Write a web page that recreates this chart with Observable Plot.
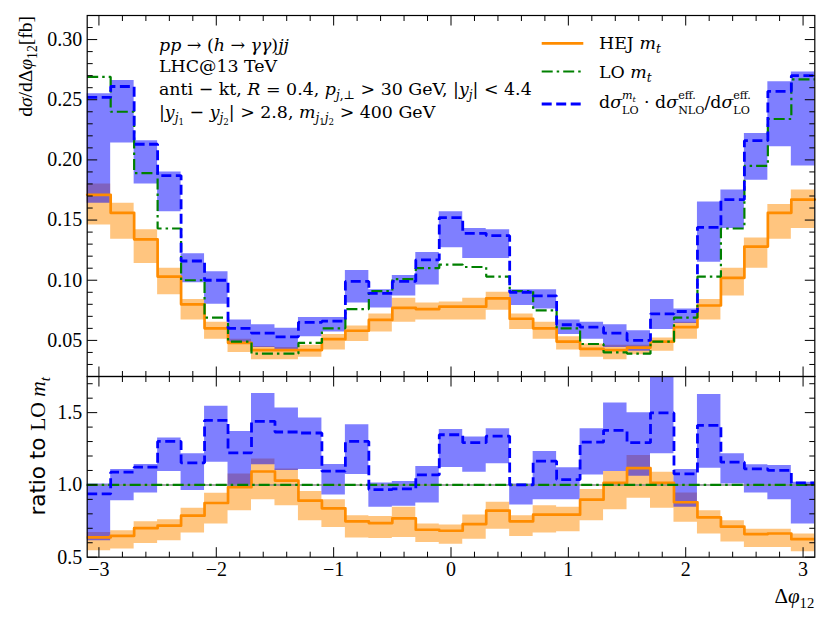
<!DOCTYPE html>
<html><head><meta charset="utf-8">
<script src="https://cdn.jsdelivr.net/npm/d3@7"></script>
<script src="https://cdn.jsdelivr.net/npm/@observablehq/plot@0.6"></script>
<style>
body{margin:0;background:#fff}
#wrap{position:relative;width:830px;height:623px;overflow:hidden}
#wrap svg{position:absolute;left:0}
</style></head>
<body><div id="wrap"></div>
<script>
// ---- data (31 bins of width 0.2 in Δφ12) ----
const binEdges = [-3.1,-2.9,-2.7,-2.5,-2.3,-2.1,-1.9,-1.7,-1.5,-1.3,-1.1,-0.9,-0.7,-0.5,-0.3,-0.1,0.1,0.3,0.5,0.7,0.9,1.1,1.3,1.5,1.7,1.9,2.1,2.3,2.5,2.7,2.9,3.1];
const hej   = [0.171,0.156,0.134,0.103,0.080,0.060,0.048,0.042,0.042,0.042,0.051,0.058,0.067,0.077,0.076,0.078,0.078,0.085,0.068,0.060,0.049,0.043,0.042,0.044,0.049,0.061,0.079,0.102,0.128,0.156,0.167];
const hejLo = [0.146,0.134,0.114,0.088,0.067,0.051,0.040,0.034,0.034,0.036,0.042,0.049,0.057,0.065,0.067,0.067,0.067,0.075,0.059,0.051,0.042,0.036,0.034,0.038,0.041,0.051,0.067,0.087,0.110,0.134,0.143];
const hejHi = [0.180,0.164,0.142,0.110,0.084,0.065,0.051,0.045,0.044,0.046,0.055,0.062,0.072,0.085,0.081,0.082,0.085,0.090,0.072,0.065,0.053,0.047,0.046,0.046,0.052,0.065,0.084,0.110,0.135,0.163,0.175];
const loMt  = [0.269,0.240,0.189,0.143,0.100,0.069,0.049,0.039,0.039,0.048,0.060,0.076,0.091,0.101,0.110,0.113,0.111,0.103,0.091,0.075,0.060,0.047,0.040,0.039,0.049,0.069,0.103,0.143,0.195,0.234,0.267];
const nlo   = [0.252,0.261,0.213,0.187,0.116,0.100,0.060,0.056,0.053,0.065,0.066,0.099,0.089,0.099,0.117,0.152,0.139,0.137,0.090,0.087,0.063,0.061,0.056,0.050,0.072,0.074,0.144,0.167,0.216,0.257,0.270];
const nloLo = [0.164,0.214,0.180,0.157,0.098,0.080,0.047,0.044,0.042,0.053,0.057,0.081,0.077,0.087,0.096,0.127,0.118,0.118,0.079,0.076,0.055,0.051,0.044,0.041,0.059,0.064,0.115,0.143,0.183,0.211,0.195];
const nloHi = [0.255,0.266,0.216,0.190,0.122,0.107,0.067,0.063,0.060,0.069,0.069,0.108,0.092,0.104,0.123,0.157,0.143,0.142,0.092,0.092,0.067,0.065,0.063,0.058,0.084,0.076,0.165,0.175,0.222,0.265,0.273];
// ratio to LO m_t
const rHej   = [0.637,0.648,0.701,0.718,0.787,0.875,0.984,1.093,1.030,0.891,0.838,0.748,0.736,0.769,0.690,0.683,0.729,0.822,0.748,0.794,0.794,0.898,1.014,1.116,1.014,0.880,0.775,0.711,0.660,0.664,0.625];
const rHejLo = [0.544,0.556,0.595,0.613,0.667,0.729,0.822,0.898,0.856,0.752,0.706,0.632,0.630,0.637,0.602,0.590,0.625,0.694,0.644,0.667,0.676,0.752,0.829,0.907,0.838,0.741,0.660,0.606,0.567,0.567,0.537];
const rHejHi = [0.671,0.683,0.745,0.759,0.838,0.942,1.076,1.180,1.110,0.954,0.898,0.787,0.782,0.845,0.729,0.722,0.792,0.880,0.787,0.856,0.845,0.968,1.093,1.204,1.088,0.944,0.822,0.752,0.694,0.694,0.660];
const rNlo   = [0.938,1.088,1.123,1.301,1.153,1.447,1.222,1.440,1.366,1.359,1.095,1.301,0.968,0.972,1.069,1.347,1.292,1.338,1.000,1.164,1.037,1.296,1.377,1.292,1.498,1.076,1.412,1.157,1.111,1.100,1.014];
const rNloLo = [0.613,0.891,0.944,1.093,0.961,1.157,0.991,1.139,1.100,1.106,0.931,1.072,0.845,0.852,0.875,1.120,1.088,1.146,0.861,0.898,0.898,1.069,1.093,1.060,1.215,0.845,1.116,1.007,0.944,0.898,0.729];
const rNloHi = [1.007,1.106,1.141,1.324,1.215,1.544,1.370,1.632,1.532,1.463,1.141,1.417,1.014,1.023,1.127,1.384,1.331,1.389,1.007,1.231,1.118,1.389,1.567,1.500,1.780,1.106,1.625,1.215,1.139,1.134,1.019];
const loRatioLevel = [1.0];
// ticks
const xTicks = [-3,-2,-1,0,1,2,3];
const xMinor = [-2.8,-2.6,-2.4,-2.2,-1.8,-1.6,-1.4,-1.2,-0.8,-0.6,-0.4,-0.2,0.2,0.4,0.6,0.8,1.2,1.4,1.6,1.8,2.2,2.4,2.6,2.8];
const yTopTicks = [0.05,0.10,0.15,0.20,0.25,0.30];
const yTopMinor = [0.03,0.04,0.06,0.07,0.08,0.09,0.11,0.12,0.13,0.14,0.16,0.17,0.18,0.19,0.21,0.22,0.23,0.24,0.26,0.27,0.28,0.29,0.31];
const yRatTicks = [0.5,1.0,1.5];
const yRatMinor = [0.6,0.7,0.8,0.9,1.1,1.2,1.3,1.4,1.6,1.7];

// ---- style ----
const SERIF = "'Liberation Serif','DejaVu Serif',serif";
const DSERIF = "'DejaVu Serif','Liberation Serif',serif";
const SANS = "'DejaVu Sans',sans-serif";
const ORANGE = "#ff8c00", GREEN = "#008000", BLUE = "#0000ff";
const W = 830, ML = 86.7, MR = 15.7, SPLIT = 376;

const n = hej.length;
function steps(cols) {
  return binEdges.map((e, i) => {
    const j = Math.min(i, n - 1);
    const r = {x: e};
    for (const [k, arr] of Object.entries(cols)) r[k] = arr[j];
    return r;
  });
}
const topRows = steps({hej, hejLo, hejHi, loMt, nlo, nloLo, nloHi});
const ratRows = steps({rHej, rHejLo, rHejHi, rNlo, rNloLo, rNloHi});

const tickShape = {draw(ctx, l) { ctx.moveTo(0, 0); ctx.lineTo(0, -l); }};
function vt(vals, ch, anchor, rot, len) {
  return Plot.vector(vals, {[ch]: d => d, frameAnchor: anchor, rotate: rot, length: len, anchor: "start",
    shape: tickShape, stroke: "black", strokeWidth: 1, strokeLinecap: "butt"});
}
function allTicks(yMaj, yMin) {
  return [
    vt(xTicks, "x", "bottom", 0, 10), vt(xMinor, "x", "bottom", 0, 5.5),
    vt(xTicks, "x", "top", 180, 10), vt(xMinor, "x", "top", 180, 5.5),
    vt(yMaj, "y", "left", 90, 10), vt(yMin, "y", "left", 90, 5.5),
    vt(yMaj, "y", "right", -90, 10), vt(yMin, "y", "right", -90, 5.5)
  ];
}

const topPlot = Plot.plot({
  width: W, height: SPLIT, marginTop: 15, marginBottom: 0, marginLeft: ML, marginRight: MR,
  x: {domain: [-3.1, 3.1], axis: null},
  y: {domain: [0.02, 0.32], axis: null},
  style: {background: "none", overflow: "visible"},
  marks: [
    Plot.areaY(topRows, {x: "x", y1: "hejLo", y2: "hejHi", curve: "step-after", fill: ORANGE, fillOpacity: 0.5}),
    Plot.areaY(topRows, {x: "x", y1: "nloLo", y2: "nloHi", curve: "step-after", fill: BLUE, fillOpacity: 0.5}),
    Plot.lineY(topRows, {x: "x", y: "hej", curve: "step-after", stroke: ORANGE, strokeWidth: 2.7}),
    Plot.lineY(topRows, {x: "x", y: "loMt", curve: "step-after", stroke: GREEN, strokeWidth: 2.2, strokeDasharray: "11,4,2.5,4", strokeLinejoin: "miter", strokeLinecap: "butt"}),
    Plot.lineY(topRows, {x: "x", y: "nlo", curve: "step-after", stroke: BLUE, strokeWidth: 2.8, strokeDasharray: "10,4.5", strokeLinejoin: "miter", strokeLinecap: "butt"}),
    Plot.frame({stroke: "black", strokeWidth: 1.2}),
    ...allTicks(yTopTicks, yTopMinor),
    Plot.text(yTopTicks, {y: d => d, frameAnchor: "left", dx: -5, textAnchor: "end", lineAnchor: "middle",
      text: d => d3.format(".2f")(d), fontSize: 20, fontFamily: SERIF, fill: "black"})
  ]
});

const botPlot = Plot.plot({
  width: W, height: 623 - SPLIT, marginTop: 0, marginBottom: 623 - 556.7, marginLeft: ML, marginRight: MR,
  x: {domain: [-3.1, 3.1], axis: null},
  y: {domain: [0.5, 1.75], axis: null},
  style: {background: "none", overflow: "visible"},
  marks: [
    Plot.areaY(ratRows, {x: "x", y1: "rHejLo", y2: "rHejHi", curve: "step-after", fill: ORANGE, fillOpacity: 0.5, clip: true}),
    Plot.areaY(ratRows, {x: "x", y1: "rNloLo", y2: "rNloHi", curve: "step-after", fill: BLUE, fillOpacity: 0.5, clip: true}),
    Plot.ruleY(loRatioLevel, {y: d => d, stroke: "#888", strokeWidth: 1.5}),
    Plot.lineY(ratRows, {x: "x", y: "rHej", curve: "step-after", stroke: ORANGE, strokeWidth: 2.7, clip: true}),
    Plot.ruleY(loRatioLevel, {y: d => d, stroke: GREEN, strokeWidth: 2.2, strokeDasharray: "11,4,2.5,4"}),
    Plot.lineY(ratRows, {x: "x", y: "rNlo", curve: "step-after", stroke: BLUE, strokeWidth: 2.8, strokeDasharray: "10,4.5", strokeLinejoin: "miter", strokeLinecap: "butt", clip: true}),
    Plot.frame({stroke: "black", strokeWidth: 1.2}),
    ...allTicks(yRatTicks, yRatMinor),
    Plot.text(yRatTicks, {y: d => d, frameAnchor: "left", dx: -5, textAnchor: "end", lineAnchor: "middle",
      text: d => d3.format(".1f")(d), fontSize: 20, fontFamily: SERIF, fill: "black"}),
    Plot.text(xTicks, {x: d => d, frameAnchor: "bottom", dy: 5, lineAnchor: "top",
      text: d => d3.format("d")(d), fontSize: 20, fontFamily: SERIF, fill: "black"})
  ]
});

const wrap = document.getElementById("wrap");
topPlot.style.top = "0px";
botPlot.style.top = SPLIT + "px";
wrap.appendChild(botPlot);
wrap.appendChild(topPlot);

// ---- overlay for text & legend ----
const ov = d3.select(wrap).append("svg").attr("width", W).attr("height", 623)
  .style("top", "0px").style("left", "0px").style("overflow", "visible");

// rich text layout: items {t, i (italic), b (baseline shift em), s (scale), f (font)}, or {stack:[[...],[...]]}
function layout(g, x0, y0, items, fs, font) {
  function put(it, x) {
    const el = g.append("text")
      .attr("x", x).attr("y", y0 + (it.b || 0) * fs)
      .attr("font-size", fs * (it.s || 1))
      .attr("font-family", it.f || font || SERIF)
      .attr("font-style", it.i ? "italic" : "normal")
      .attr("fill", "black")
      .style("white-space", "pre")
      .text(it.t);
    return el.node().getComputedTextLength();
  }
  function run(list, x) { for (const it of list) x += it.stack ? stack(it.stack, x) : put(it, x); return x; }
  function stack(parts, x) { let w = 0; for (const p of parts) w = Math.max(w, run(p, x) - x); return w; }
  return run(items, x0) - x0;
}
const SUB = 0.24, SUP = -0.5, SS = 0.7, LS = 0.64;

// annotation block
const ann = ov.append("g");
const AFS = 17.4;
layout(ann, 159, 50.5, [{t:"pp",i:1},{t:" → ("},{t:"h",i:1},{t:" → "},{t:"γγ",i:1},{t:")"},{t:"jj",i:1}], AFS, DSERIF);
layout(ann, 159, 72, [{t:"LHC@13 TeV"}], AFS, DSERIF);
layout(ann, 159, 95, [{t:"anti − kt, "},{t:"R",i:1},{t:" = 0.4, "},{t:"p",i:1},{t:"j",i:1,b:SUB,s:SS},{t:",⊥",b:SUB,s:SS},
  {t:" > 30 GeV, |"},{t:"y",i:1},{t:"j",i:1,b:SUB,s:SS},{t:"| < 4.4"}], AFS, DSERIF);
layout(ann, 159, 118, [{t:"|"},{t:"y",i:1},{t:"j",i:1,b:SUB,s:SS},{t:"1",b:0.4,s:0.5},{t:" − "},{t:"y",i:1},{t:"j",i:1,b:SUB,s:SS},{t:"2",b:0.4,s:0.5},
  {t:"| > 2.8, "},{t:"m",i:1},{t:"j",i:1,b:SUB,s:SS},{t:"1",b:0.4,s:0.5},{t:"j",i:1,b:SUB,s:SS},{t:"2",b:0.4,s:0.5},{t:" > 400 GeV"}], AFS, DSERIF);

// legend
const leg = ov.append("g");
const LFS = 17.4;
const legendRows = [
  {y: 43.3, base: 49, stroke: ORANGE, dash: null, w: 2.7, items: [{t:"HEJ "},{t:"m",i:1},{t:"t",i:1,b:SUB,s:SS}]},
  {y: 71.5, base: 77.5, stroke: GREEN, dash: "11,4,2.5,4", w: 2.2, items: [{t:"LO "},{t:"m",i:1},{t:"t",i:1,b:SUB,s:SS}]},
  {y: 104, base: 108, stroke: BLUE, dash: "10,4.5", w: 2.8, items: [{t:"d"},{t:"σ",i:1},
    {stack: [[{t:"m",i:1,b:SUP,s:LS},{t:"t",i:1,b:-0.36,s:0.46}], [{t:"LO",b:0.34,s:LS}]]},
    {t:" · d"},{t:"σ",i:1},{stack: [[{t:"eff.",b:SUP,s:LS}], [{t:"NLO",b:0.34,s:LS}]]},
    {t:"/d"},{t:"σ",i:1},{stack: [[{t:"eff.",b:SUP,s:LS}], [{t:"LO",b:0.34,s:LS}]]}]}
];
for (const r of legendRows) {
  leg.append("line").attr("x1", 541.7).attr("x2", 583.3).attr("y1", r.y).attr("y2", r.y)
    .attr("stroke", r.stroke).attr("stroke-width", r.w).attr("stroke-dasharray", r.dash);
  layout(leg, 599, r.base, r.items, LFS, DSERIF);
}

// y labels, end-anchored at top of each panel
function vlabel(cx, topY, items, fs) {
  const g = ov.append("g");
  const w = layout(g, 0, 0, items, fs);
  g.attr("transform", `translate(${cx},${topY + w}) rotate(-90)`);
}
vlabel(32, 16, [{t:"d"},{t:"σ",i:1},{t:"/dΔ"},{t:"φ",i:1},{t:"12",b:SUB,s:SS},{t:"[fb]"}], 19.5);
vlabel(45, 377, [{t:"ratio to ",f:SANS},{t:"LO "},{t:"m",i:1},{t:"t",i:1,b:SUB,s:SS}], 21.5);

// x label, right-aligned
{
  const g = ov.append("g");
  const w = layout(g, 0, 0, [{t:"Δ"},{t:"φ",i:1},{t:"12",b:SUB,s:SS}], 21);
  g.attr("transform", `translate(${814.3 - w},603)`);
}
</script>
</body></html>
